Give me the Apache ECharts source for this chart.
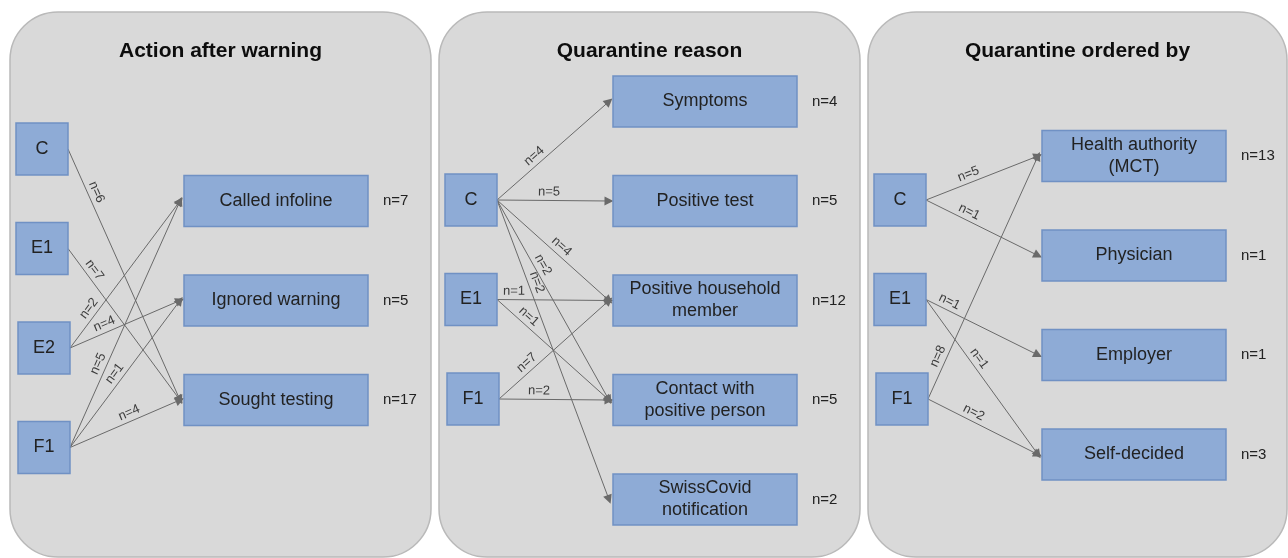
<!DOCTYPE html>
<html>
<head>
    <meta charset="utf-8">
    <title>Quarantine flows</title>
    <script src="https://cdn.jsdelivr.net/npm/echarts@6/dist/echarts.min.js"></script>
    <style>
        html, body { margin: 0; padding: 0; background: #fff; }
        #chart { width: 1288px; height: 558px; }
    </style>
</head>
<body>
<div id="chart"></div>
<script>
    // data
    var panelTitles = ['Action after warning', 'Quarantine reason', 'Quarantine ordered by'];

    var actionSources = ['C', 'E1', 'E2', 'F1'];
    var actionTargets = ['Called infoline', 'Ignored warning', 'Sought testing'];
    var actionTotals = [7, 5, 17];
    var actionLinks = [
        ['C', 'Sought testing', 6],
        ['E1', 'Sought testing', 7],
        ['E2', 'Called infoline', 2],
        ['E2', 'Ignored warning', 4],
        ['F1', 'Called infoline', 5],
        ['F1', 'Ignored warning', 1],
        ['F1', 'Sought testing', 4]
    ];

    var reasonSources = ['C', 'E1', 'F1'];
    var reasonTargets = ['Symptoms', 'Positive test', 'Positive household\nmember', 'Contact with\npositive person', 'SwissCovid\nnotification'];
    var reasonTotals = [4, 5, 12, 5, 2];
    var reasonLinks = [
        ['C', 'Symptoms', 4],
        ['C', 'Positive test', 5],
        ['C', 'Positive household\nmember', 4],
        ['C', 'Contact with\npositive person', 2],
        ['C', 'SwissCovid\nnotification', 2],
        ['E1', 'Positive household\nmember', 1],
        ['E1', 'Contact with\npositive person', 1],
        ['F1', 'Positive household\nmember', 7],
        ['F1', 'Contact with\npositive person', 2]
    ];

    var orderSources = ['C', 'E1', 'F1'];
    var orderTargets = ['Health authority\n(MCT)', 'Physician', 'Employer', 'Self-decided'];
    var orderTotals = [13, 1, 1, 3];
    var orderLinks = [
        ['C', 'Health authority\n(MCT)', 5],
        ['C', 'Physician', 1],
        ['E1', 'Employer', 1],
        ['E1', 'Self-decided', 1],
        ['F1', 'Health authority\n(MCT)', 8],
        ['F1', 'Self-decided', 2]
    ];

    // layout of the three panels (pixel units of the hidden axes)
    var font = 'Liberation Sans, Arial, Helvetica, sans-serif';
    var rowGap = 99.5;
    var layout = [
        {left: 10, width: 421, srcTop: 149, tgtTop: 201, labelAlong: [51, 33, 43, 41, 88, 86, 68]},
        {left: 439, width: 421, srcTop: 200, tgtTop: 101.5, labelAlong: [57, 52, 79, 79, 91, 17, 35, 45, 40]},
        {left: 868, width: 419, srcTop: 200, tgtTop: 156, labelAlong: [49, 44, 22, 79, 43, 47]}
    ];
    var panelData = [
        {sources: actionSources, targets: actionTargets, totals: actionTotals, links: actionLinks},
        {sources: reasonSources, targets: reasonTargets, totals: reasonTotals, links: reasonLinks},
        {sources: orderSources, targets: orderTargets, totals: orderTotals, links: orderLinks}
    ];

    var srcW = 52, srcH = 52, tgtW = 184, tgtH = 51;

    var boxes = [];
    var edges = [];
    panelData.forEach(function (pd, i) {
        var lay = layout[i];
        var srcX = lay.left + 32, tgtX = lay.left + 266;
        var srcPos = {}, tgtPos = {};
        pd.sources.forEach(function (s, k) {
            var y = lay.srcTop + rowGap * k;
            // lower source boxes sit a little further right in the original
            var x = srcX + (k >= pd.sources.length - 2 && pd.sources.length > 3 || k === pd.sources.length - 1 ? 2 : 0);
            srcPos[s] = [x + srcW / 2, y];
            boxes.push({name: s, cx: x, cy: y, w: srcW, h: srcH, total: null});
        });
        pd.targets.forEach(function (t, k) {
            var y = lay.tgtTop + rowGap * k;
            tgtPos[t] = [tgtX - tgtW / 2, y];
            boxes.push({name: t, cx: tgtX, cy: y, w: tgtW, h: tgtH, total: pd.totals[k]});
        });
        pd.links.forEach(function (l, k) {
            var a = srcPos[l[0]], b = tgtPos[l[1]];
            edges.push({
                coords: [a, [b[0] - 4, b[1]]],
                value: l[2],
                label: {distance: [lay.labelAlong[k] - 11, 2]}
            });
        });
    });

    var myChart = echarts.init(document.getElementById('chart'));

    var panelGraphics = [];
    layout.forEach(function (lay, i) {
        panelGraphics.push({
            type: 'rect',
            x: lay.left, y: 12,
            shape: {width: lay.width, height: 545, r: 48},
            style: {fill: '#d9d9d9', stroke: '#b9b9b9', lineWidth: 1.5},
            z: -10
        });
        panelGraphics.push({
            type: 'text',
            x: lay.left + lay.width / 2, y: 51,
            style: {
                text: panelTitles[i], fill: '#0d0d0d', font: 'bold 21px ' + font,
                align: 'center', verticalAlign: 'middle'
            },
            z: -9
        });
    });

    myChart.setOption({
        animation: false,
        graphic: panelGraphics,
        grid: {left: 0, top: 0, right: 0, bottom: 0},
        xAxis: {type: 'value', min: 0, max: 1288, show: false},
        yAxis: {type: 'value', min: 0, max: 558, inverse: true, show: false},
        series: [
            {
                type: 'lines',
                coordinateSystem: 'cartesian2d',
                symbol: ['none', 'triangle'],
                symbolSize: [7, 9],
                lineStyle: {color: '#6a6a6a', width: 1, opacity: 1},
                label: {
                    show: true,
                    position: 'insideStartTop',
                    color: '#3c3c3c',
                    fontSize: 13,
                    fontFamily: font,
                    formatter: function (p) { return 'n=' + edges[p.dataIndex].value; }
                },
                data: edges,
                z: 3
            },
            {
                type: 'custom',
                coordinateSystem: 'cartesian2d',
                data: boxes.map(function (b) { return [b.cx, b.cy, b.w, b.h]; }),
                renderItem: function (params, api) {
                    var b = boxes[params.dataIndex];
                    var cx = api.value(0), cy = api.value(1), w = api.value(2), h = api.value(3);
                    var p0 = api.coord([cx - w / 2, cy - h / 2]);
                    var p1 = api.coord([cx + w / 2, cy + h / 2]);
                    var children = [{
                        type: 'rect',
                        shape: {x: p0[0], y: Math.min(p0[1], p1[1]), width: p1[0] - p0[0], height: Math.abs(p1[1] - p0[1])},
                        style: {fill: '#8eabd6', stroke: '#7091c4', lineWidth: 1.5},
                        textContent: {
                            style: {
                                text: b.name, fill: '#222', fontSize: 18, fontFamily: font,
                                align: 'center', verticalAlign: 'middle', lineHeight: 22
                            }
                        },
                        textConfig: {position: 'inside'}
                    }];
                    if (b.total !== null) {
                        children.push({
                            type: 'text',
                            x: p1[0] + 15, y: (p0[1] + p1[1]) / 2,
                            style: {
                                text: 'n=' + b.total, fill: '#222', fontSize: 15, fontFamily: font,
                                align: 'left', verticalAlign: 'middle'
                            }
                        });
                    }
                    return {type: 'group', children: children};
                },
                z: 5
            }
        ]
    });
</script>
</body>
</html>
